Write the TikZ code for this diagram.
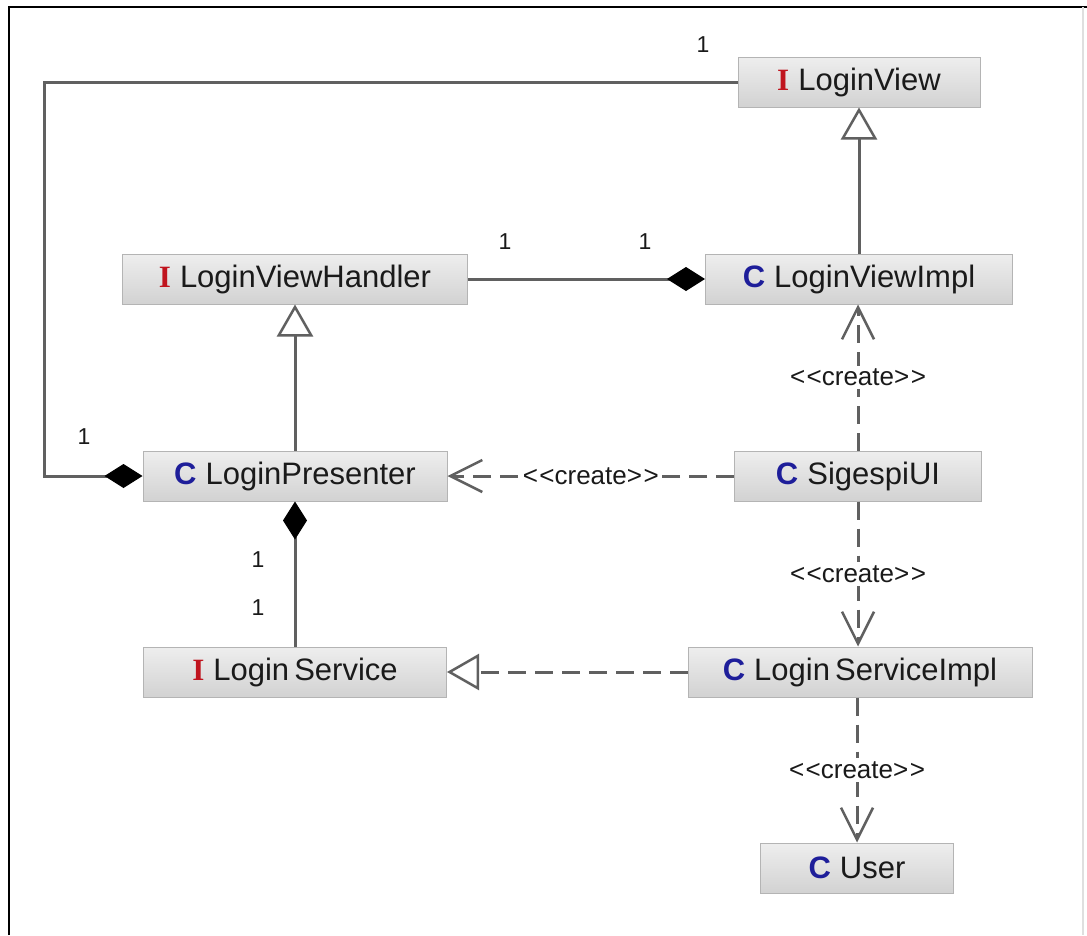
\documentclass[tikz,border=0pt]{standalone}
\usepackage{fontspec}
\setmainfont{Liberation Sans}
\newfontfamily\ifacefont{Liberation Serif}
\usetikzlibrary{arrows.meta}
\definecolor{linegray}{HTML}{606060}
\definecolor{boxedge}{HTML}{B4B4B4}
\definecolor{boxtop}{HTML}{EEEEEE}
\definecolor{boxbot}{HTML}{D2D2D2}
\definecolor{ired}{HTML}{C0141E}
\definecolor{cblue}{HTML}{1E1E9A}
\definecolor{txt}{HTML}{1A1A1A}
\newcommand{\ikind}{{\ifacefont\bfseries\color{ired}I}\hspace{9pt}}
\newcommand{\ckind}{{\bfseries\color{cblue}C}\hspace{9pt}}
\newcommand{\creates}{<\kern1.5pt<create>\kern1.5pt>}
\tikzset{
  umlbox/.style={draw=boxedge, line width=1pt, top color=boxtop, bottom color=boxbot,
    minimum height=50pt, inner sep=0pt, text=txt,
    font=\fontsize{31}{34}\selectfont},
  conn/.style={draw=linegray, line width=3pt},
  depend/.style={conn, dash pattern=on 18pt off 9pt},
  mult/.style={font=\fontsize{23}{26}\selectfont, text=txt, inner sep=0pt},
  stereo/.style={font=\fontsize{26}{30}\selectfont, text=txt, fill=white, inner sep=3pt},
  realize/.style={-{Triangle[open, length=32pt, width=36pt, line width=2.5pt, fill=white]}},
  usetip/.style={-{Straight Barb[length=32pt, width=32pt, line width=2.5pt]}},
  compose/.style={{Diamond[length=38pt, width=24pt, line width=1pt, color=black]}-},
}
\begin{document}
\begin{tikzpicture}[x=1pt, y=-1pt]
\useasboundingbox (0,0) rectangle (1087,935);
\fill[white] (0,0) rectangle (1087,935);
% frame
\draw[line width=2.5pt, black] (9,935) -- (9,7) -- (1087,7);
\draw[line width=1.5pt, gray!25] (1083,7) -- (1083,935);

% classes and interfaces
\node[umlbox, minimum width=242pt] (view)    at (859,82)  {\ikind LoginView};
\node[umlbox, minimum width=345pt] (handler) at (295,279) {\ikind LoginViewHandler};
\node[umlbox, minimum width=307pt] (viewimpl) at (859,279) {\ckind LoginViewImpl};
\node[umlbox, minimum width=304pt] (presenter) at (295,476) {\ckind LoginPresenter};
\node[umlbox, minimum width=247pt] (ui)      at (858,476) {\ckind SigespiUI};
\node[umlbox, minimum width=303pt] (service) at (295,672) {\ikind Login\,Service};
\node[umlbox, minimum width=344pt] (serviceimpl) at (860,672) {\ckind Login\,ServiceImpl};
\node[umlbox, minimum width=193pt] (user)    at (857,868) {\ckind User};

% corner of the view-to-presenter association
\coordinate (bendtop) at (44,82);
\coordinate (bendbot) at (44,476);

% associations with composition
\draw[conn, compose] (presenter.west) -- (bendbot) -- (bendtop) -- (view.west);
\draw[conn, compose] (viewimpl.west) -- (handler.east);
\draw[conn, compose] (presenter.south) -- (service.north);

% generalisations
\draw[conn, realize] (viewimpl.north) -- (view.south);
\draw[conn, realize] (presenter.north) -- (handler.north |- handler.south);
\draw[depend, realize] (serviceimpl.west) -- (service.east);

% creation dependencies
\draw[depend, usetip] (ui.west) -- node[stereo] (s1) {\creates} (presenter.east);
\draw[depend, usetip] (ui.north) -- node[stereo] (s2) {\creates} (viewimpl.south -| ui.north);
\draw[depend, usetip] (ui.south) -- node[stereo] (s3) {\creates} (serviceimpl.north -| ui.south);
\draw[depend, usetip] (serviceimpl.south -| user.north) -- node[stereo] (s4) {\creates} (user.north);

% multiplicities
\node[mult] (m1) at (703,45)  {1};
\node[mult] (m2) at (84,437)  {1};
\node[mult] (m3) at (505,242) {1};
\node[mult] (m4) at (645,242) {1};
\node[mult] (m5) at (258,560) {1};
\node[mult] (m6) at (258,608) {1};
\end{tikzpicture}
\end{document}
